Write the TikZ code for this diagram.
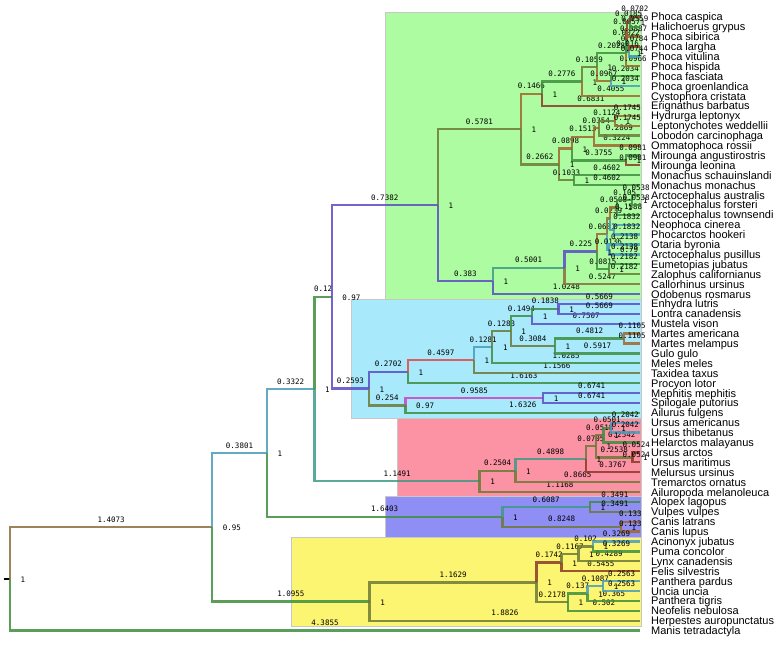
\documentclass[tikz,border=0pt]{standalone}
\usepackage{fontspec}
\setmainfont{Liberation Sans}
\newfontfamily\labfont{DejaVu Sans Mono}
\newcommand\bllab{\labfont\fontsize{7.5}{8}\selectfont}
\newcommand\leaffnt{\fontsize{11}{12}\selectfont}
\definecolor{cbrn}{HTML}{8C6D3F}
\definecolor{cgrn}{HTML}{3E8E3E}
\definecolor{ctea}{HTML}{4A9CB8}
\definecolor{ctgr}{HTML}{3F9A86}
\definecolor{cpur}{HTML}{5A4CC6}
\definecolor{cred}{HTML}{E0484A}
\definecolor{cmag}{HTML}{CC44C4}
\definecolor{colv}{HTML}{6C7A36}
\definecolor{cdbr}{HTML}{8A3A28}
\definecolor{corg}{HTML}{A0662C}
\definecolor{bxg}{HTML}{AEFCA1}
\definecolor{bxc}{HTML}{A8EAFC}
\definecolor{bxp}{HTML}{FC93A5}
\definecolor{bxb}{HTML}{8E8EF4}
\definecolor{bxy}{HTML}{FCF571}
\tikzset{
 brl/.style={line width=2.3pt, draw opacity=0.85},
 blab/.style={pos=0.75, anchor=south, inner sep=0pt, yshift=3.6pt, font=\bllab, text=black},
 slab/.style={anchor=west, inner sep=0pt, xshift=10.5pt, yshift=-0.8pt, font=\bllab, text=black},
 leaf/.style={anchor=base west, inner sep=0pt, yshift=-4pt, font=\leaffnt, text=black},
 clade/.style={draw=black!22, line width=0.6pt}
}
\newcommand\brn[4]{\draw[brl,#1] (#2) |- (#3) node[blab] (b#3) {#4};}
\newcommand\brq[3]{\draw[brl,#1] (#2) |- (#3);}
\newcommand\supl[2]{\node[slab] (s#1) at (#1) {#2};}
\begin{document}
\begin{tikzpicture}[x=1pt,y=-1pt]
\fill[white] (0,0) rectangle (779,645);
\useasboundingbox (0,0) rectangle (779,645);
% clade boxes
\filldraw[clade, fill=bxg] (385,12.3) rectangle (641.5,299);
\filldraw[clade, fill=bxc] (351.6,299) rectangle (641.5,418);
\filldraw[clade, fill=bxp] (397.2,418) rectangle (641.5,496);
\filldraw[clade, fill=bxb] (385,496) rectangle (641.5,537);
\filldraw[clade, fill=bxy] (291.6,537) rectangle (641.5,626.5);
% leaves
\foreach \nm [count=\i from 0] in {Phoca caspica, Halichoerus grypus, Phoca sibirica, Phoca largha, Phoca vitulina, Phoca hispida, Phoca fasciata, Phoca groenlandica, Cystophora cristata, Erignathus barbatus, Hydrurga leptonyx, Leptonychotes weddellii, Lobodon carcinophaga, Ommatophoca rossii, Mirounga angustirostris, Mirounga leonina, Monachus schauinslandi, Monachus monachus, Arctocephalus australis, Arctocephalus forsteri, Arctocephalus townsendi, Neophoca cinerea, Phocarctos hookeri, Otaria byronia, Arctocephalus pusillus, Eumetopias jubatus, Zalophus californianus, Callorhinus ursinus, Odobenus rosmarus, Enhydra lutris, Lontra canadensis, Mustela vison, Martes americana, Martes melampus, Gulo gulo, Meles meles, Taxidea taxus, Procyon lotor, Mephitis mephitis, Spilogale putorius, Ailurus fulgens, Ursus americanus, Ursus thibetanus, Helarctos malayanus, Ursus arctos, Ursus maritimus, Melursus ursinus, Tremarctos ornatus, Ailuropoda melanoleuca, Alopex lagopus, Vulpes vulpes, Canis latrans, Canis lupus, Acinonyx jubatus, Puma concolor, Lynx canadensis, Felis silvestris, Panthera pardus, Uncia uncia, Panthera tigris, Neofelis nebulosa, Herpestes auropunctatus, Manis tetradactyla}{
  \coordinate (t\i) at (640,{16.8+9.9*\i});
  \node[leaf] (n\i) at (651,{16.8+9.9*\i}) {\nm};
}
% internal nodes
\coordinate (root) at (10,578.9);
\coordinate (stub) at (3.5,578.9);
\coordinate (A) at (212.2,527.2);
\coordinate (B) at (266.8,452.9);
\coordinate (K) at (369.6,601.5);
\coordinate (C) at (314.5,389.0);
\coordinate (CA) at (502.4,516.75);
\coordinate (D) at (331.7,296.75);
\coordinate (UR) at (479.6,481.3);
\coordinate (E) at (437.8,205.0);
\coordinate (M) at (369.0,388.5);
\coordinate (P) at (520.8,129.1);
\coordinate (F) at (492.8,280.9);
\coordinate (Q) at (541.9,93.75);
\coordinate (R) at (559.1,164.4);
\coordinate (Q1) at (581.8,81.6);
\coordinate (Q2) at (597.0,67.2);
\coordinate (FG) at (610.8,81.15);
\coordinate (pa) at (629.9,21.75);
\coordinate (pb) at (627.3,29.2);
\coordinate (pc) at (628.7,51.45);
\coordinate (pd) at (626.4,40.3);
\coordinate (pe) at (626.1,53.3);
\coordinate (R1) at (572.0,148.6);
\coordinate (R2) at (593.7,136.85);
\coordinate (R3) at (598.8,128.2);
\coordinate (R4) at (614.9,120.75);
\coordinate (MI) at (625.9,160.35);
\coordinate (R5) at (573.9,180.15);
\coordinate (G) at (564.6,267.85);
\coordinate (H) at (597.0,251.6);
\coordinate (H1) at (607.3,234.0);
\coordinate (U) at (609.9,218.5);
\coordinate (T) at (617.2,207.4);
\coordinate (AF) at (632.3,199.95);
\coordinate (NP) at (613.7,229.65);
\coordinate (OP) at (609.3,249.45);
\coordinate (H2) at (608.7,269.25);
\coordinate (M1) at (407.8,371.65);
\coordinate (M2) at (405.5,405.4);
\coordinate (M3) at (473.85,360.2);
\coordinate (M4) at (492.3,347.2);
\coordinate (M5) at (510.7,331.15);
\coordinate (M6) at (532.2,316.3);
\coordinate (EL) at (558.6,308.85);
\coordinate (MG) at (555.0,346.0);
\coordinate (MA) at (624.1,338.55);
\coordinate (MS) at (543.2,397.95);
\coordinate (UR1) at (515.5,470.65);
\coordinate (UR2) at (585.9,459.2);
\coordinate (UR3) at (596.0,446.2);
\coordinate (UR4) at (603.5,435.1);
\coordinate (AT) at (610.7,427.65);
\coordinate (AM) at (632.5,457.35);
\coordinate (VA) at (589.85,506.85);
\coordinate (CL) at (620.9,526.65);
\coordinate (FE) at (536.6,582.35);
\coordinate (FE1) at (561.6,562.55);
\coordinate (FE3) at (578.4,553.9);
\coordinate (AP) at (593.0,546.45);
\coordinate (FE2) at (567.9,602.15);
\coordinate (PA) at (587.6,593.5);
\coordinate (PU) at (603.2,586.05);
% branches
\draw[line width=2pt, black] (stub) -- (root);
\brn{cbrn}{root}{A}{1.4073}
\brn{cgrn}{root}{t62}{4.3855}
\brn{ctea}{A}{B}{0.3801}
\brn{cgrn}{A}{K}{1.0955}
\brn{ctea}{B}{C}{0.3322}
\brn{cgrn}{B}{CA}{1.6403}
\brn{cgrn}{C}{D}{0.12}
\brn{ctgr}{C}{UR}{1.1491}
\brn{cpur}{D}{E}{0.7382}
\brn{cpur}{D}{M}{0.2593}
% pinnipeds
\brn{colv}{E}{P}{0.5781}
\brn{cpur}{E}{F}{0.383}
\brn{corg}{P}{Q}{0.1466}
\brn{colv}{P}{R}{0.2662}
\brn{cgrn}{Q}{Q1}{0.2776}
\brn{cdbr}{Q}{t9}{0.6831}
\brn{colv}{Q1}{Q2}{0.1059}
\brn{corg}{Q1}{t8}{0.4055}
\brn{cgrn}{Q2}{pe}{0.2028}
\brn{corg}{Q2}{FG}{0.0967}
\brn{cgrn}{FG}{t6}{0.2034}
\brn{ctea}{FG}{t7}{0.2034}
\brn{ctea}{pe}{pd}{0.0022}
\brn{corg}{pe}{t5}{0.0966}
\brn{cdbr}{pd}{pb}{0.0057}
\brn{cgrn}{pd}{pc}{0.016}
\brn{cdbr}{pb}{pa}{0.0185}
\brn{corg}{pb}{t2}{0.0887}
\brn{cdbr}{pa}{t0}{0.0702}
\brn{cgrn}{pa}{t1}{0.0559}
\brn{cdbr}{pc}{t3}{0.0784}
\brn{ctea}{pc}{t4}{0.0744}
\brn{corg}{R}{R1}{0.0898}
\brn{colv}{R}{R5}{0.1033}
\brn{corg}{R1}{R2}{0.1513}
\brn{cgrn}{R1}{MI}{0.3755}
\brn{corg}{R2}{R3}{0.0354}
\brn{corg}{R2}{t13}{0.3224}
\brn{colv}{R3}{R4}{0.1124}
\brn{colv}{R3}{t12}{0.2869}
\brn{corg}{R4}{t10}{0.1745}
\brn{corg}{R4}{t11}{0.1745}
\brn{cgrn}{MI}{t14}{0.0981}
\brn{cdbr}{MI}{t15}{0.0981}
\brn{cgrn}{R5}{t16}{0.4602}
\brn{cgrn}{R5}{t17}{0.4602}
\brn{ctgr}{F}{G}{0.5001}
\brn{cpur}{F}{t28}{1.0248}
\brn{cpur}{G}{H}{0.225}
\brn{cbrn}{G}{t27}{0.5247}
\brn{corg}{H}{H1}{0.0681}
\brn{cgrn}{H}{H2}{0.0815}
\brn{cbrn}{H1}{U}{0.0239}
\brn{ctea}{H1}{OP}{0.0136}
\brn{corg}{U}{T}{0.0508}
\brq{ctea}{U}{NP}
\brn{cgrn}{T}{AF}{0.105}
\brn{cgrn}{T}{t20}{0.1588}
\brn{cgrn}{AF}{t18}{0.0538}
\brn{cgrn}{AF}{t19}{0.0538}
\brn{ctea}{NP}{t21}{0.1832}
\brn{ctea}{NP}{t22}{0.1832}
\brn{ctea}{OP}{t23}{0.2138}
\brn{ctea}{OP}{t24}{0.2138}
\brn{cgrn}{H2}{t25}{0.2182}
\brn{colv}{H2}{t26}{0.2182}
% musteloids
\brn{cpur}{M}{M1}{0.2702}
\brn{colv}{M}{M2}{0.254}
\brn{cred}{M1}{M3}{0.4597}
\brn{cgrn}{M1}{t37}{1.6163}
\brn{ctea}{M3}{M4}{0.1281}
\brn{colv}{M3}{t36}{1.1566}
\brn{colv}{M4}{M5}{0.1283}
\brn{cgrn}{M4}{t35}{1.0285}
\brn{cgrn}{M5}{M6}{0.1494}
\brn{colv}{M5}{MG}{0.3084}
\brn{cgrn}{M6}{EL}{0.1838}
\brn{cpur}{M6}{t31}{0.7507}
\brn{cpur}{EL}{t29}{0.5669}
\brn{cpur}{EL}{t30}{0.5669}
\brn{cgrn}{MG}{MA}{0.4812}
\brn{cgrn}{MG}{t34}{0.5917}
\brn{corg}{MA}{t32}{0.1105}
\brn{corg}{MA}{t33}{0.1105}
\brn{cmag}{M2}{MS}{0.9585}
\brn{cgrn}{M2}{t40}{1.6326}
\brn{cpur}{MS}{t38}{0.6741}
\brn{cpur}{MS}{t39}{0.6741}
% ursids
\brn{colv}{UR}{UR1}{0.2504}
\brn{colv}{UR}{t48}{1.1168}
\brn{ctgr}{UR1}{UR2}{0.4898}
\brn{colv}{UR1}{t47}{0.8665}
\brn{colv}{UR2}{UR3}{0.0705}
\brn{cdbr}{UR2}{t46}{0.3767}
\brn{colv}{UR3}{UR4}{0.0518}
\brn{colv}{UR3}{AM}{0.2538}
\brn{cgrn}{UR4}{AT}{0.0501}
\brn{cgrn}{UR4}{t43}{0.2542}
\brn{ctea}{AT}{t41}{0.2042}
\brn{ctea}{AT}{t42}{0.2042}
\brn{cdbr}{AM}{t44}{0.0524}
\brn{cdbr}{AM}{t45}{0.0524}
% canids
\brn{ctgr}{CA}{VA}{0.6087}
\brn{colv}{CA}{CL}{0.8248}
\brn{cgrn}{VA}{t49}{0.3491}
\brn{colv}{VA}{t50}{0.3491}
\brn{corg}{CL}{t51}{0.133}
\brn{corg}{CL}{t52}{0.133}
% feliforms
\brn{colv}{K}{FE}{1.1629}
\brn{colv}{K}{t61}{1.8826}
\brn{cdbr}{FE}{FE1}{0.1742}
\brn{colv}{FE}{FE2}{0.2178}
\brn{colv}{FE1}{FE3}{0.1167}
\brn{cdbr}{FE1}{t56}{0.5455}
\brn{colv}{FE3}{AP}{0.102}
\brn{colv}{FE3}{t55}{0.4289}
\brn{ctea}{AP}{t53}{0.3269}
\brn{cgrn}{AP}{t54}{0.3269}
\brn{cgrn}{FE2}{PA}{0.137}
\brn{cgrn}{FE2}{t60}{0.502}
\brn{ctea}{PA}{PU}{0.1087}
\brn{cgrn}{PA}{t59}{0.365}
\brn{ctea}{PU}{t57}{0.2563}
\brn{ctea}{PU}{t58}{0.2563}
% support values
\supl{root}{1}
\supl{A}{0.95}
\supl{B}{1}
\supl{C}{1}
\supl{D}{0.97}
\supl{E}{1}
\supl{F}{1}
\supl{G}{1}
\supl{H}{1}
\supl{T}{1}
\supl{AF}{1}
\supl{OP}{0.79}
\supl{H2}{1}
\supl{P}{1}
\supl{Q}{1}
\supl{Q1}{1}
\supl{Q2}{1}
\supl{FG}{1}
\supl{pa}{1}
\supl{pc}{1}
\supl{pe}{1}
\supl{R}{1}
\supl{R1}{1}
\supl{R4}{1}
\supl{MI}{1}
\supl{R5}{1}
\supl{M}{1}
\supl{M1}{1}
\supl{M2}{0.97}
\supl{M3}{1}
\supl{M4}{1}
\supl{M5}{1}
\supl{M6}{1}
\supl{EL}{1}
\supl{MG}{1}
\supl{MS}{1}
\supl{UR}{1}
\supl{UR1}{1}
\supl{UR2}{1}
\supl{UR3}{1}
\supl{UR4}{1}
\supl{AT}{1}
\supl{AM}{1}
\supl{CA}{1}
\supl{VA}{1}
\supl{CL}{1}
\supl{K}{1}
\supl{FE}{1}
\supl{FE1}{1}
\supl{FE3}{1}
\supl{AP}{1}
\supl{FE2}{1}
\supl{PA}{1}
\supl{PU}{1}
\end{tikzpicture}
\end{document}
